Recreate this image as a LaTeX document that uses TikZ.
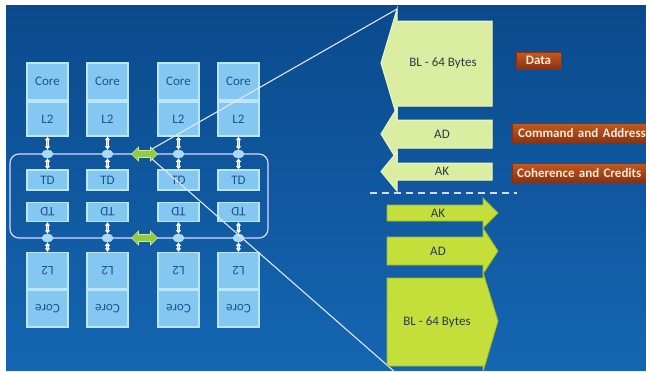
\documentclass[tikz,border=0pt]{standalone}
\usepackage{fontspec}
\setmainfont{Carlito}
\usetikzlibrary{shapes.geometric,arrows.meta}
\definecolor{bgtop}{HTML}{0A4A8C}
\definecolor{bgbot}{HTML}{1566B2}
\definecolor{cellfill}{HTML}{84C8F2}
\definecolor{celledge}{HTML}{BCE6FB}
\definecolor{celltext}{HTML}{1F5290}
\definecolor{paleg}{HTML}{DAEDA0}
\definecolor{paleedge}{HTML}{EEF8C8}
\definecolor{limeg}{HTML}{C4DE3A}
\definecolor{limeedge}{HTML}{9DB81E}
\definecolor{arrtext}{HTML}{2B3A4A}
\definecolor{labtop}{HTML}{C45A20}
\definecolor{labbot}{HTML}{8A3210}
\definecolor{labtext}{HTML}{FBEBDC}
\definecolor{greenarr}{HTML}{92CC3C}
\definecolor{conn}{HTML}{DCE6EE}
\tikzset{
  cell/.style={draw=celledge, line width=1.2pt, fill=cellfill, minimum width=41pt,
    inner sep=0pt, text=celltext, font=\fontsize{13}{13}\selectfont},
  hub/.style={ellipse, fill=cellfill!70!white, draw=celledge, line width=0.5pt,
    minimum width=11pt, minimum height=8pt, inner sep=0pt},
  vconn/.style={draw=white, double=conn!70!gray, double distance=1.4pt, line width=0.7pt,
    {Latex[length=3.5pt,width=6pt]}-{Latex[length=3.5pt,width=6pt]}},
  garrow/.style={fill=greenarr, draw=white!55!greenarr, line width=0.6pt},
  palearr/.style={fill=paleg, draw=paleedge, line width=1pt},
  limearr/.style={fill=limeg, draw=limeedge, line width=0.8pt},
  arrlabel/.style={text=arrtext, font=\fontsize{13}{13}\selectfont},
  tag/.style={top color=labtop, bottom color=labbot, draw=labbot, line width=0.4pt,
    text=labtext, font=\bfseries\fontsize{13}{13}\selectfont, inner sep=0pt},
  zoomline/.style={white!90!blue, line width=1.1pt},
}
\begin{document}
\begin{tikzpicture}[x=1pt,y=-1pt]
\useasboundingbox (0,0) rectangle (646,372);
\clip (0,0) rectangle (646,372);
\fill[white] (0,0) rectangle (646,372);
\shade[top color=bgtop, bottom color=bgbot] (6,5) rectangle (646,370);
% rounded frame
\draw[white!85!blue, line width=1.2pt, rounded corners=9pt] (10,154) rectangle (268,238);
% cells
\foreach \i/\cx in {1/47.5,2/107.5,3/178.5,4/238.5}{
  \node[cell, minimum height=37pt] (core\i) at (\cx,81.5) {Core};
  \node[cell, minimum height=34pt] (ltwo\i) at (\cx,119) {L2};
  \node[cell, minimum height=20pt] (td\i) at (\cx,180) {TD};
  \node[cell, minimum height=19pt, rotate=180] (bd\i) at (\cx,212) {TD};
  \node[cell, minimum height=36pt, rotate=180] (bltwo\i) at (\cx,270.5) {L2};
  \node[cell, minimum height=37pt, rotate=180] (bcore\i) at (\cx,308.5) {Core};
  \node[hub] (h\i) at (\cx,154) {};
  \node[hub] (k\i) at (\cx,238) {};
  \draw[vconn] (ltwo\i.south) -- (h\i.north);
  \draw[vconn] (h\i.south) -- (td\i.north);
  \draw[vconn] (bd\i.north) -- (k\i.north);
  \draw[vconn] (k\i.south) -- (bltwo\i.south);
}
% green double arrows
\foreach \n/\yy in {g1/154,g2/238}{
  \coordinate (\n) at (144.5,\yy);
  \draw[garrow, shift={(\n)}] (-13,0) -- (-6,-7) -- (-6,-3.5) -- (6,-3.5) -- (6,-7) -- (13,0)
    -- (6,7) -- (6,3.5) -- (-6,3.5) -- (-6,7) -- cycle;
}
% zoom lines
\coordinate (zt) at (397,9);
\coordinate (zb) at (396,373);
\coordinate (gt) at (152,149);
\coordinate (gb) at (152,159);
\draw[zoomline] (gt) -- (zt);
\draw[zoomline] (gb) -- (zb);
% left-pointing arrows (upper)
\draw[palearr] (492,21) -- (397,21) -- (397,9) -- (381,63) -- (397,117) -- (397,106) -- (492,106) -- cycle;
\draw[palearr] (492,120) -- (397,120) -- (397,108) -- (381,134) -- (397,160) -- (397,148) -- (492,148) -- cycle;
\draw[palearr] (492,163) -- (397,163) -- (397,152) -- (381,171.5) -- (397,191) -- (397,180) -- (492,180) -- cycle;
\node[arrlabel] (bl1) at (443,63) {BL - 64 Bytes};
\node[arrlabel] (ad1) at (442,134) {AD};
\node[arrlabel] (ak1) at (442,171.5) {AK};
% dashed separator
\coordinate (dl) at (370,193);
\coordinate (dr) at (517,193);
\draw[white!85!blue, line width=1.5pt, dash pattern=on 7pt off 5pt] (dl) -- (dr);
% right-pointing arrows (lower)
\draw[limearr] (387,205) -- (483,205) -- (483,198) -- (498,213) -- (483,228) -- (483,221) -- (387,221) -- cycle;
\draw[limearr] (387,237) -- (483,237) -- (483,228) -- (498,251) -- (483,274) -- (483,265) -- (387,265) -- cycle;
\draw[limearr] (387,278) -- (483,278) -- (483,272) -- (498,321) -- (483,372) -- (483,366) -- (387,366) -- cycle;
\node[arrlabel] (ak2) at (438,213) {AK};
\node[arrlabel] (ad2) at (438,251) {AD};
\node[arrlabel] (bl2) at (437,322) {BL - 64 Bytes};
% tags
\node[tag, minimum width=45pt, minimum height=17pt] (data) at (538.5,60.5) {Data};
\node[tag, minimum width=140pt, minimum height=20pt, anchor=west, text width=140pt, align=left] (cmd) at (512,133) {\hspace*{6pt}Command and Address};
\node[tag, minimum width=136pt, minimum height=19pt, anchor=west, text width=136pt, align=left] (coh) at (512,172.5) {\hspace*{5pt}Coherence and Credits};
\end{tikzpicture}
\end{document}
